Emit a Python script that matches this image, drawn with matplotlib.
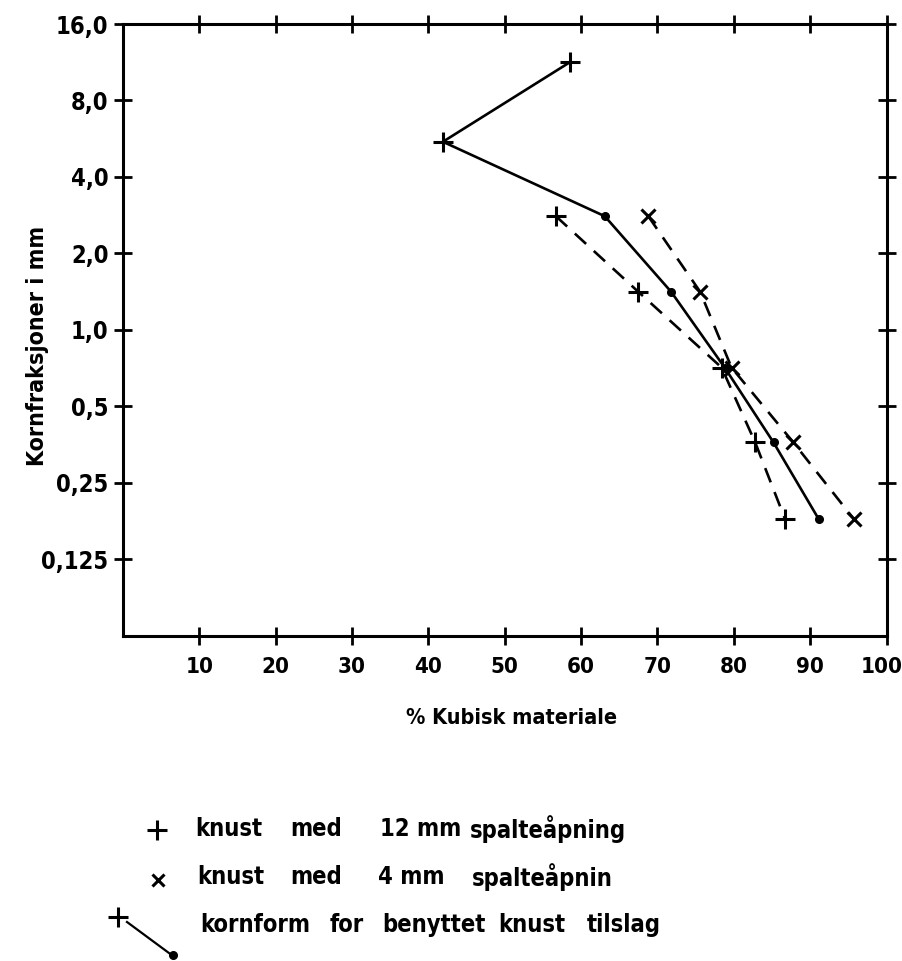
import matplotlib
matplotlib.use("Agg")
import matplotlib.pyplot as plt
from matplotlib.ticker import FixedLocator, NullLocator
from matplotlib.transforms import ScaledTranslation

# Grain size fractions (mm), one row per sieve interval
sizes = [11.3, 5.5, 2.8, 1.41, 0.71, 0.36, 0.18]

# % cubic material per fraction
kornform_x = [58.5, 41.9, 63.1, 71.8, 78.8, 85.2, 91.1]   # benyttet knust tilslag
knust12_x = [56.7, 67.5, 78.4, 82.8, 86.7]                # 12 mm spalteåpning
knust12_y = sizes[2:]
knust4_x = [68.8, 75.6, 79.7, 87.8, 95.7]                 # 4 mm spalteåpning
knust4_y = sizes[2:]

y_ticks = [16, 8, 4, 2, 1, 0.5, 0.25, 0.125]
y_ticklabels = ["16,0", "8,0", "4,0", "2,0", "1,0", "0,5", "0,25", "0,125"]
x_ticks = [10, 20, 30, 40, 50, 60, 70, 80, 90, 100]
x_ticklabels = ["10", "20", "30", "40", "50", "60", "70", "80", "90", "100"]

plt.rcParams["font.family"] = ["DejaVu Sans"]
plt.rcParams["font.stretch"] = "condensed"
plt.rcParams["lines.scale_dashes"] = False

W, H = 902, 961
fig = plt.figure(figsize=(W / 100, H / 100), dpi=100)
L, R, T, B = 123, 886.5, 24, 635.5
ax = fig.add_axes([L / W, 1 - B / H, (R - L) / W, (B - T) / H])

ax.set_yscale("log", base=2)
ax.set_ylim(0.0625, 16)
ax.set_xlim(0, 100)

lw = 1.9
mew = 2.2
dash = (11, 7.5)

# knust tilslag (solid): '+' at the coarse fractions, dots below
ax.plot(kornform_x, sizes, color="black", lw=lw, zorder=3)
ax.plot(kornform_x[:2], sizes[:2], ls="none", marker="+", ms=15, mew=mew,
        color="black", zorder=4)
ax.plot(kornform_x[2:], sizes[2:], ls="none", marker="o", ms=5.5,
        color="black", zorder=4)

# 12 mm crusher setting
ax.plot(knust12_x, knust12_y, color="black", lw=lw, dashes=dash,
        marker="+", ms=15, mew=mew, zorder=3)
# 4 mm crusher setting
ax.plot(knust4_x, knust4_y, color="black", lw=lw, dashes=dash,
        marker="x", ms=10, mew=mew, zorder=3)

for s in ax.spines.values():
    s.set_linewidth(2.2)

ax.yaxis.set_major_locator(FixedLocator(y_ticks))
ax.yaxis.set_minor_locator(NullLocator())
ax.set_yticklabels(y_ticklabels)
ax.xaxis.set_major_locator(FixedLocator(x_ticks))
ax.set_xticklabels(x_ticklabels)
ax.tick_params(axis="both", which="major", direction="inout", length=13,
               width=2, top=True, right=True)
ax.tick_params(axis="x", pad=9, labelsize=16)
ax.tick_params(axis="y", pad=4, labelsize=17)
for lab in ax.get_xticklabels() + ax.get_yticklabels():
    lab.set_fontweight("bold")
last = ax.get_xticklabels()[-1]
last.set_transform(last.get_transform()
                   + ScaledTranslation(-5 / 100, 0, fig.dpi_scale_trans))

fig.text(512 / W, 1 - 718 / H, "% Kubisk materiale", ha="center", va="center",
         fontsize=15.5, fontweight="bold")
fig.text(38 / W, 1 - 346 / H, "Kornfraksjoner i mm", ha="center", va="center",
         rotation=90, fontsize=16.7, fontweight="bold")

# key below the chart
fs = 17
def words(y, items):
    for x, w in items:
        fig.text(x / W, 1 - y / H, w, ha="left", va="center", fontsize=fs,
                 fontweight="bold")

fig.lines.append(plt.Line2D([157 / W], [1 - 830 / H], marker="+", ms=15,
                            mew=mew, color="black", transform=fig.transFigure))
words(829, [(195, "knust"), (290, "med"), (380, "12 mm"), (470, "spalteåpning")])

fig.lines.append(plt.Line2D([158 / W], [1 - 880 / H], marker="x", ms=9,
                            mew=mew, color="black", transform=fig.transFigure))
words(877, [(197, "knust"), (290, "med"), (378, "4 mm"), (472, "spalteåpnin")])

fig.lines.append(plt.Line2D([118 / W], [1 - 917 / H], marker="+", ms=15,
                            mew=mew, color="black", transform=fig.transFigure))
fig.lines.append(plt.Line2D([127 / W, 173 / W], [1 - 922 / H, 1 - 956 / H],
                            lw=1.6, color="black", transform=fig.transFigure))
fig.lines.append(plt.Line2D([173 / W], [1 - 955 / H], marker="o", ms=5.5,
                            color="black", transform=fig.transFigure))
words(925, [(200, "kornform"), (330, "for"), (382, "benyttet"),
            (498, "knust"), (587, "tilslag")])

fig.savefig("out.png", dpi=100)
